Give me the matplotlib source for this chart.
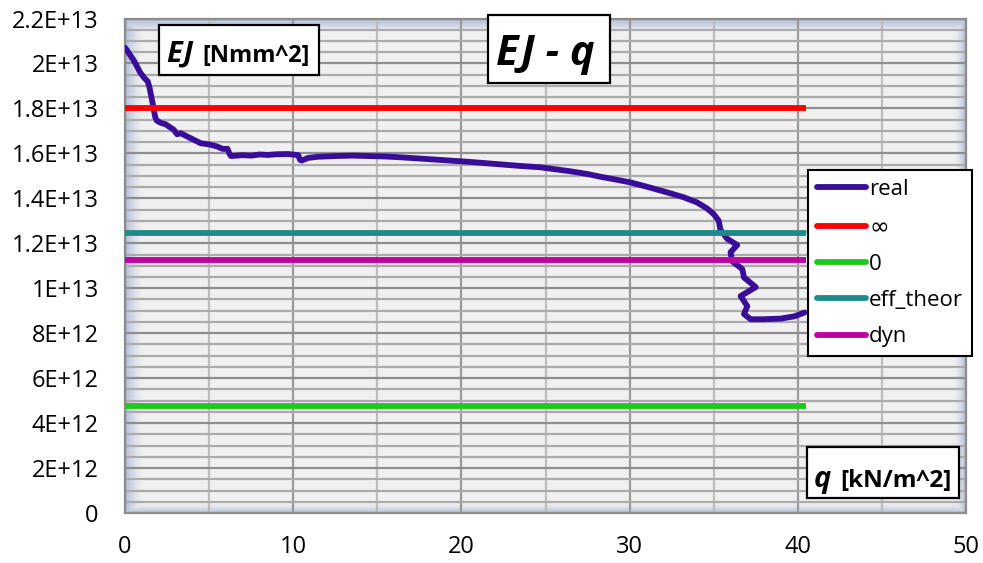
import numpy as np
import matplotlib
matplotlib.use("Agg")
import matplotlib.pyplot as plt
from matplotlib.patches import Rectangle
from matplotlib.ticker import MultipleLocator

plt.rcParams['font.family'] = ['Open Sans', 'DejaVu Sans']

# Measured stiffness EJ [Nmm^2] against load q [kN/m^2]
q_real = [0.0, 0.1, 0.55, 0.9, 1.15, 1.35, 1.45, 1.6, 1.7, 1.8, 1.9, 2.15, 2.4,
          2.7, 2.9, 3.1, 3.3, 3.7, 4.1, 4.5, 5.0, 5.5, 5.8, 6.1, 6.2, 6.3, 7.0,
          7.5, 8.0, 8.5, 9.0, 9.7, 10.3, 10.4, 10.5, 10.9, 11.5, 12.5, 13.5,
          14.5, 15.5, 16.5, 17.5, 18.5, 19.5, 20.5, 21.5, 22.5, 23.5, 24.7,
          25.5, 26.5, 27.5, 28.2, 29.0, 30.1, 31.2, 32.3, 33.2, 34.0, 34.6,
          35.0, 35.3, 35.4, 35.8, 36.4, 36.0, 36.1, 36.7, 36.8, 37.5, 36.6,
          37.0, 36.8, 37.2, 38.0, 39.0, 39.8, 40.4]
ej_real_e12 = [20.7, 20.6, 20.1, 19.6, 19.35, 19.2, 18.95, 18.4, 18.0, 17.6,
               17.45, 17.35, 17.3, 17.15, 17.05, 16.85, 16.9, 16.75, 16.6,
               16.45, 16.4, 16.3, 16.2, 16.2, 16.0, 15.88, 15.92, 15.9, 15.95,
               15.93, 15.96, 15.97, 15.92, 15.72, 15.68, 15.8, 15.85, 15.88,
               15.9, 15.88, 15.86, 15.82, 15.77, 15.72, 15.67, 15.62, 15.56,
               15.5, 15.44, 15.38, 15.3, 15.2, 15.08, 14.97, 14.86, 14.7,
               14.48, 14.25, 14.05, 13.82, 13.55, 13.3, 13.0, 12.6, 12.2,
               11.92, 11.6, 11.2, 10.85, 10.48, 10.05, 9.65, 9.2, 8.85, 8.62,
               8.62, 8.65, 8.75, 8.92]
ej_real = np.array(ej_real_e12) * 1e12

# Reference stiffness levels
q_span = [0.0, 40.5]
ej_inf = 1.8e13
ej_zero = 4.75e12
ej_eff_theor = 1.245e13
ej_dyn = 1.125e13

series_labels = ["real", "\u221e", "0", "eff_theor", "dyn"]
series_colors = ["#3a0d99", "#ff0000", "#1ec81e", "#1f8a8a", "#c000a0"]

y_ticks = [0, 2e12, 4e12, 6e12, 8e12, 1e13, 1.2e13, 1.4e13, 1.6e13, 1.8e13,
           2e13, 2.2e13]
y_tick_labels = ["0", "2E+12", "4E+12", "6E+12", "8E+12", "1E+13", "1.2E+13",
                 "1.4E+13", "1.6E+13", "1.8E+13", "2E+13", "2.2E+13"]
x_ticks = [0, 10, 20, 30, 40, 50]
x_tick_labels = ["0", "10", "20", "30", "40", "50"]

W, H = 983, 563
fig = plt.figure(figsize=(W / 100, H / 100), dpi=100)
ax_l, ax_r, ax_t, ax_b = 125, 966, 18.5, 513
ax = fig.add_axes([ax_l / W, 1 - ax_b / H, (ax_r - ax_l) / W, (ax_b - ax_t) / H])
ax.set_facecolor("#f0f0f0")
ax.set_xlim(0, 50)
ax.set_ylim(0, 2.2e13)

# soft bluish shading along the inner edges of the plot area
aw, ah = ax_r - ax_l, ax_b - ax_t
gx = np.arange(int(aw))[None, :] + 0.5
gy = np.arange(int(ah))[:, None] + 0.5
fade = np.maximum.reduce([
    np.clip(1 - gx / 18.0, 0, 1) ** 1.5 * np.ones_like(gy),
    np.clip(1 - (aw - gx) / 12.0, 0, 1) ** 1.5 * np.ones_like(gy),
    np.clip(1 - gy / 11.0, 0, 1) ** 0.6 * np.ones_like(gx),
    np.clip(1 - (ah - gy) / 11.0, 0, 1) ** 1.5 * np.ones_like(gx),
])
shade = np.zeros((int(ah), int(aw), 4))
shade[..., 0] = 150 / 255
shade[..., 1] = 172 / 255
shade[..., 2] = 210 / 255
shade[..., 3] = fade * 0.75
ax.imshow(shade, extent=(0, 1, 0, 1), transform=ax.transAxes, aspect="auto",
          zorder=0, interpolation="bilinear")

ax.set_axisbelow(True)
ax.yaxis.set_major_locator(MultipleLocator(2e12))
ax.yaxis.set_minor_locator(MultipleLocator(5e11))
ax.xaxis.set_major_locator(MultipleLocator(10))
ax.xaxis.set_minor_locator(MultipleLocator(5))
ax.grid(which="major", axis="y", color="#8e8e8e", lw=1.6)
ax.grid(which="minor", axis="y", color="#ababab", lw=1.6)
ax.grid(which="major", axis="x", color="#9a9a9a", lw=1.6)
ax.grid(which="minor", axis="x", color="#bdbdbd", lw=1.6)

ax.set_yticks(y_ticks)
ax.set_yticklabels(y_tick_labels)
ax.set_xticks(x_ticks)
ax.set_xticklabels(x_tick_labels)
ax.tick_params(which="both", length=0, labelsize=17, colors="#000000")
ax.tick_params(axis="y", pad=19)
ax.tick_params(axis="x", pad=16)

for s in ax.spines.values():
    s.set_color("#8c8c8c")
    s.set_linewidth(1.6)

lw = 4.2
ax.plot(q_real, ej_real, color=series_colors[0], lw=lw, label=series_labels[0],
        solid_capstyle="round", solid_joinstyle="round", zorder=3)
for val, lab, col in zip([ej_inf, ej_zero, ej_eff_theor, ej_dyn],
                         series_labels[1:], series_colors[1:]):
    ax.plot(q_span, [val, val], color=col, lw=lw, label=lab,
            solid_capstyle="butt", zorder=3)

leg = ax.legend(loc="upper left", bbox_to_anchor=(808 / W, 1 - 170 / H),
                bbox_transform=fig.transFigure, fontsize=16, frameon=True,
                fancybox=False, edgecolor="#000000", framealpha=1,
                handlelength=2.2, handletextpad=0.15, labelspacing=0.68,
                borderpad=0.4, borderaxespad=0)
leg.get_frame().set_linewidth(1.5)
for h in leg.get_lines():
    h.set_solid_capstyle("round")
leg.get_texts()[1].set_fontfamily(["DejaVu Sans"])
leg.get_texts()[1].set_fontsize(17)
leg.set_zorder(10)


def px_box(x0, y0, x1, y1):
    r = Rectangle((x0 / W, 1 - y1 / H), (x1 - x0) / W, (y1 - y0) / H,
                  transform=fig.transFigure, facecolor="white",
                  edgecolor="black", lw=1.6, zorder=20)
    fig.add_artist(r)


def px_text(x, y, s, **kw):
    fig.text(x / W, 1 - y / H, s, ha="left", va="baseline", zorder=21, **kw)


# quantity label on the vertical axis
px_box(159, 25, 319, 75)
px_text(166, 62, "EJ", fontsize=21, fontweight="bold", fontstyle="italic")
px_text(202, 62, "[Nmm^2]", fontsize=17, fontweight="bold")

# chart title
px_box(488, 15, 610, 83)
px_text(496, 65, "EJ - q", fontsize=30, fontweight="bold", fontstyle="italic")

# quantity label on the horizontal axis
px_box(807, 447, 959, 498)
px_text(814, 487, "q", fontsize=21, fontweight="bold", fontstyle="italic")
px_text(840, 487, "[kN/m^2]", fontsize=17.5, fontweight="bold")

fig.savefig("out.png", dpi=100)
